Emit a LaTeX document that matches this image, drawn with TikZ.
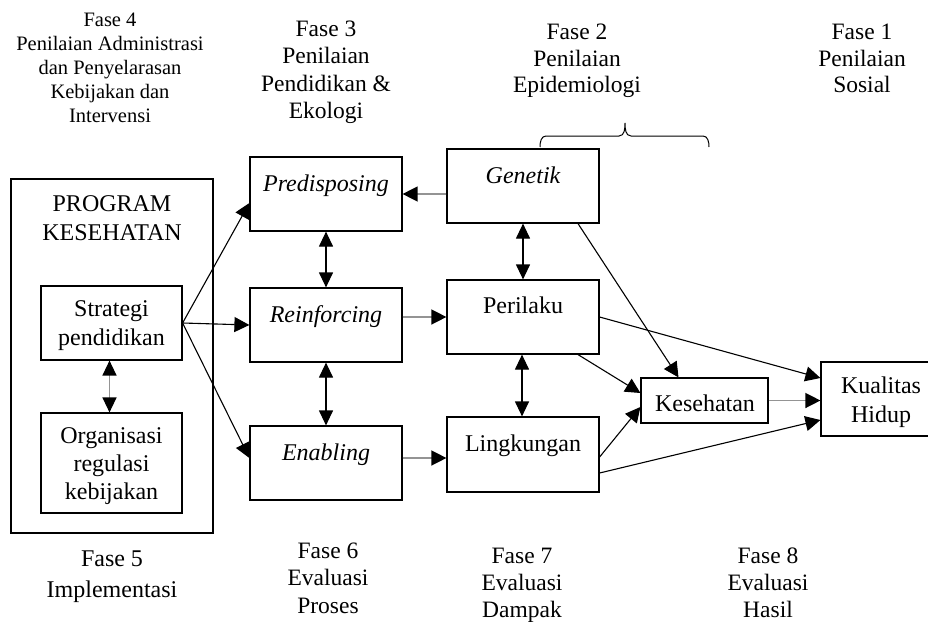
\documentclass[tikz,border=0pt]{standalone}
\usepackage{fontspec}
\setmainfont{Liberation Serif}
\usetikzlibrary{arrows.meta}
\tikzset{
  box/.style={draw, line width=1.2pt, inner sep=0pt, minimum width=152pt, minimum height=74pt},
  txt/.style={inner sep=0pt, anchor=base, align=center, font=\fontsize{24}{28.5}\selectfont},
  fase/.style={inner sep=0pt, anchor=base, align=center, font=\fontsize{23.5}{27.5}\selectfont},
  conn/.style={line width=1.1pt, -{Triangle[length=15pt,width=15pt]}},
  dconn/.style={line width=1.2pt, {Triangle[length=15pt,width=14pt]}-{Triangle[length=15pt,width=14pt]}},
  gconn/.style={draw=black!42, line width=1.4pt, -{Triangle[length=15pt,width=15pt,color=black]}},
  dgconn/.style={draw=black!42, line width=1.4pt, {Triangle[length=15pt,width=14pt,color=black]}-{Triangle[length=15pt,width=14pt,color=black]}},
}
\begin{document}
\begin{tikzpicture}[x=1pt,y=-1pt]
\clip (0,0) rectangle (928,623);
\fill[white] (0,0) rectangle (928,623);

% phase headings (positions are last-line baselines)
\node[fase, font=\fontsize{20.5}{24}\selectfont] (f4) at (110,122.5)
  {Fase 4\\Penilaian Administrasi\\dan Penyelarasan\\Kebijakan dan\\Intervensi};
\node[fase] (f3) at (326,119) {Fase 3\\Penilaian\\Pendidikan \&\\Ekologi};
\node[fase, font=\fontsize{23.5}{26.5}\selectfont] (f2) at (577,93) {Fase 2\\Penilaian\\Epidemiologi};
\node[fase, font=\fontsize{23.5}{26.5}\selectfont] (f1) at (862,93) {Fase 1\\Penilaian\\Sosial};
\node[fase, font=\fontsize{24}{31}\selectfont] (f5) at (112,597) {Fase 5\\Implementasi};
\node[fase] (f6) at (328,613) {Fase 6\\Evaluasi\\Proses};
\node[fase, font=\fontsize{23.5}{27}\selectfont] (f7) at (522,617) {Fase 7\\Evaluasi\\Dampak};
\node[fase, font=\fontsize{23.5}{27}\selectfont] (f8) at (768,617) {Fase 8\\Evaluasi\\Hasil};

% brace
\draw[line width=1pt] (540,147) to[out=90,in=180] (546,136) -- (619,136)
  to[out=0,in=-90] (625,123) to[out=-90,in=180] (631,136) -- (703,136)
  to[out=0,in=90] (709,147);

% program box
\node[box, line width=2pt, minimum width=202pt, minimum height=354pt] (prog) at (112,356) {};
\node[txt] (progt) at (112,240) {PROGRAM\\KESEHATAN};
\node[box, minimum width=141pt, minimum height=74pt] (strat) at (111.5,323) {};
\node[txt] (stratt) at (111.5,345) {Strategi\\pendidikan};
\node[box, minimum width=141pt, minimum height=100pt] (org) at (111.5,463) {};
\node[txt, font=\fontsize{24}{28}\selectfont] (orgt) at (111.5,499) {Organisasi\\regulasi\\kebijakan};

% column 2
\node[box] (pred) at (326,194) {};
\node[txt] (predt) at (326,191) {\itshape Predisposing};
\node[box] (rein) at (326,325) {};
\node[txt] (reint) at (326,322) {\itshape Reinforcing};
\node[box] (enab) at (326,463) {};
\node[txt] (enabt) at (326,460) {\itshape Enabling};

% column 3
\node[box] (gen) at (523,186) {};
\node[txt] (gent) at (523,183) {\itshape Genetik};
\node[box] (per) at (523,317) {};
\node[txt] (pert) at (523,313) {Perilaku};
\node[box, minimum height=75pt] (ling) at (523,454.5) {};
\node[txt] (lingt) at (523,451) {Lingkungan};

% right side
\node[box, minimum width=127pt, minimum height=45pt] (kes) at (704.5,400.5) {};
\node[txt] (kest) at (705,411) {Kesehatan};
\node[box, minimum width=120pt, minimum height=74pt] (kual) at (881,399) {};
\node[txt] (kualt) at (881,422) {Kualitas\\Hidup};

% connectors
\draw[conn] (strat.east) -- ([yshift=-9pt]pred.west);
\draw[conn] (strat.east) -- (rein.west);
\draw[conn] (strat.east) -- ([yshift=5pt]enab.west);
\draw[dgconn] ([xshift=-2pt]strat.south) -- ([xshift=-2pt]org.north);
\draw[dconn] (pred.south) -- (rein.north);
\draw[dconn] (rein.south) -- (enab.north);
\draw[gconn] ([yshift=-8pt]gen.west) -- (pred.east);
\draw[gconn] (per.west -| rein.east) -- (per.west);
\draw[gconn] ([yshift=-3.5pt]ling.west -| enab.east) -- ([yshift=-3.5pt]ling.west);
\draw[dconn] (gen.south) -- (per.north);
\draw[dconn] ([xshift=-1pt]per.south) -- ([xshift=-1pt]ling.north);
\draw[conn] ([xshift=55pt]gen.south) -- ([xshift=-26pt]kes.north);
\draw[conn] ([xshift=55pt]per.south) -- ([yshift=7.5pt]kes.west);
\draw[conn] ([yshift=-2.5pt]ling.east) -- ([yshift=-6.5pt]kes.west);
\draw[conn] (per.east) -- ([yshift=21pt]kual.west);
\draw[gconn] (kes.east) -- (kes.east -| kual.west);
\draw[conn] ([yshift=-18.5pt]ling.east) -- ([yshift=-21pt]kual.west);
\end{tikzpicture}
\end{document}
